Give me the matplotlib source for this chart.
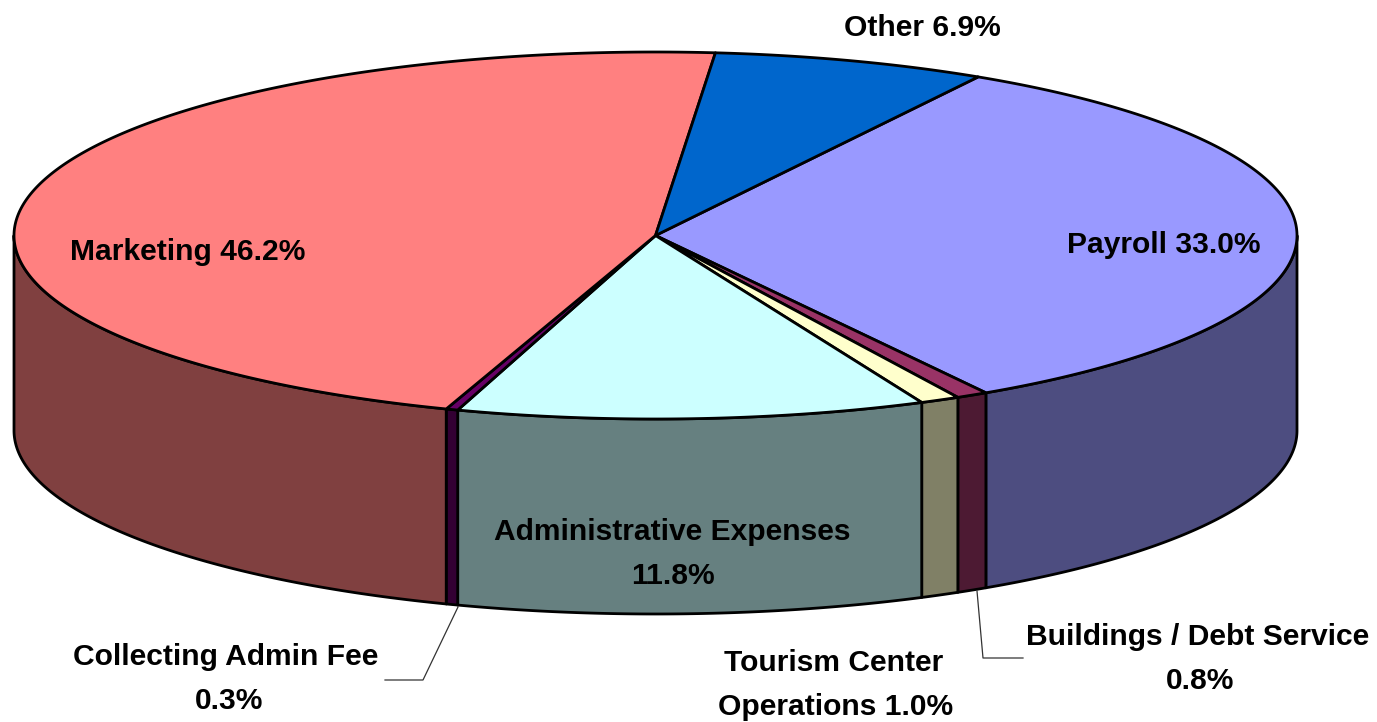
import numpy as np
import matplotlib
matplotlib.use('Agg')
import matplotlib.pyplot as plt
from matplotlib.patches import Polygon

# Slices clockwise, starting at the Payroll / Other boundary
names = ['Payroll', 'Buildings / Debt Service', 'Tourism Center Operations',
         'Administrative Expenses', 'Collecting Admin Fee', 'Marketing', 'Other']
shares = [33.0, 0.8, 1.0, 11.8, 0.3, 46.2, 6.9]
top_colors = ['#9999FF', '#993366', '#FFFFCC', '#CCFFFF', '#660066', '#FF8080', '#0066CC']
side_colors = ['#4D4D80', '#4D1A33', '#808066', '#668080', '#330033', '#804040', '#003366']

# Pie geometry in image pixels
cx, cy = 655.5, 235.5
rx, ry = 641.5, 183.5
depth = 195
start_angle = 30.2

plt.rcParams['font.family'] = ['Liberation Sans', 'DejaVu Sans']

fig = plt.figure(figsize=(13.77, 7.22), dpi=100)
ax = fig.add_axes([0, 0, 1, 1])
ax.set_xlim(0, 1377)
ax.set_ylim(722, 0)
ax.axis('off')


def rim(a0, a1, drop=0.0):
    # angles are clockwise from the top of the ellipse
    t = np.radians(np.linspace(a0, a1, max(int(abs(a1 - a0) * 3), 2)))
    return np.column_stack([cx + rx * np.sin(t), cy - ry * np.cos(t) + drop])


edges = start_angle + np.cumsum([0] + shares) * 3.6

# Side walls: only the front half of the rim (90 to 270 degrees) shows
for i in range(len(shares)):
    a0, a1 = max(edges[i], 90), min(edges[i + 1], 270)
    if a1 <= a0:
        continue
    pts = np.vstack([rim(a0, a1), rim(a0, a1, depth)[::-1]])
    ax.add_patch(Polygon(pts, closed=True, facecolor=side_colors[i],
                         edgecolor='black', linewidth=2.0, joinstyle='round', zorder=2))

# Top faces
for i in range(len(shares)):
    pts = np.vstack([[cx, cy], rim(edges[i], edges[i + 1])])
    ax.add_patch(Polygon(pts, closed=True, facecolor=top_colors[i],
                         edgecolor='black', linewidth=2.0, joinstyle='round', zorder=3))

# Leader lines
ax.plot([458, 423, 385], [607, 680, 680], color='#333333', lw=0.9, zorder=4)
ax.plot([977, 983, 1023], [591, 658, 658], color='#333333', lw=0.9, zorder=4)

# Labels
font = dict(fontsize=21.6, fontweight='bold', color='black', zorder=5,
            ha='center', va='center')
labels = [
    (188, 252, 'Marketing 46.2%'),
    (922, 28, 'Other 6.9%'),
    (1164, 245, 'Payroll 33.0%'),
    (672, 532, 'Administrative Expenses'),
    (673, 576, '11.8%'),
    (226, 657, 'Collecting Admin Fee'),
    (229, 701, '0.3%'),
    (834, 663, 'Tourism Center'),
    (836, 707, 'Operations 1.0%'),
    (1198, 637, 'Buildings / Debt Service'),
    (1200, 681, '0.8%'),
]
for x, y, s in labels:
    ax.text(x, y, s, **font)

fig.savefig('out.png', dpi=100, facecolor='white')
